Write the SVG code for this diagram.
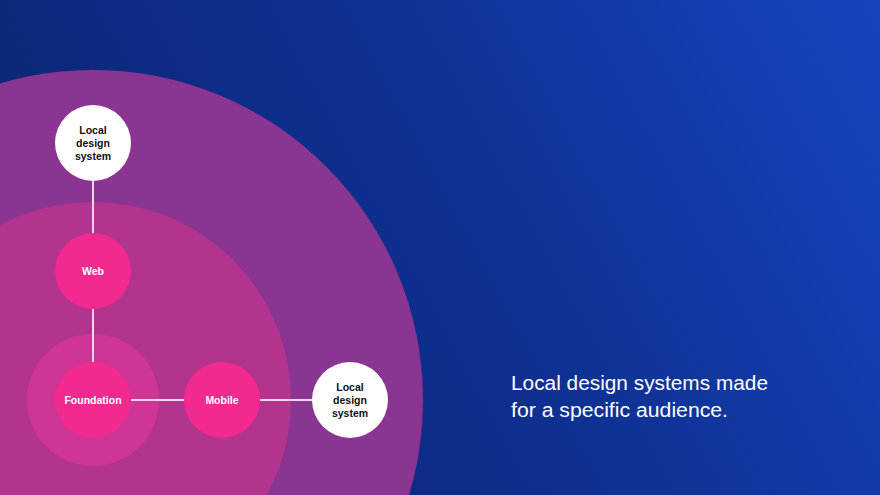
<svg xmlns="http://www.w3.org/2000/svg" width="880" height="495" viewBox="0 0 880 495">
<defs>
<linearGradient id="bg" x1="0" y1="0.3" x2="1" y2="0">
<stop offset="0" stop-color="#0c2676"/>
<stop offset="0.5" stop-color="#0f3296"/>
<stop offset="1" stop-color="#1744be"/>
</linearGradient>
<style>
.node{fill:#f22a8f}
.ext{fill:#ffffff}
.lbl{font-family:"Liberation Sans",Arial,sans-serif;font-size:10.5px;font-weight:bold;text-anchor:middle;fill:#ffffff}
.dark{fill:#111111}
.edge{stroke:#f4d6ec;stroke-width:2;fill:none}
.cap{font-family:"Liberation Sans",Arial,sans-serif;font-size:19.5px;fill:#ffffff}
</style>
</defs>
<rect width="880" height="495" fill="url(#bg)"/>
<circle cx="93" cy="400" r="330" fill="#8a3592"/>
<circle cx="93" cy="400" r="198" fill="#b3348f"/>
<circle cx="93" cy="400" r="66" fill="#cf3596"/>
<g id="connectors">
<line class="edge" x1="93" y1="181" x2="93" y2="233"/>
<line class="edge" x1="93" y1="309" x2="93" y2="362"/>
<line class="edge" x1="131" y1="400" x2="184" y2="400"/>
<line class="edge" x1="260" y1="400" x2="312" y2="400"/>
</g>
<g id="local-top">
<circle class="ext" cx="93" cy="143" r="38"/>
<text class="lbl dark" x="93" y="134">Local</text>
<text class="lbl dark" x="93" y="147">design</text>
<text class="lbl dark" x="93" y="160">system</text>
</g>
<g id="web">
<circle class="node" cx="93" cy="271" r="38"/>
<text class="lbl" x="93" y="275">Web</text>
</g>
<g id="foundation">
<circle class="node" cx="93" cy="400" r="38"/>
<text class="lbl" x="93" y="404">Foundation</text>
</g>
<g id="mobile">
<circle class="node" cx="222" cy="400" r="38"/>
<text class="lbl" x="222" y="404">Mobile</text>
</g>
<g id="local-right">
<circle class="ext" cx="350" cy="400" r="38"/>
<text class="lbl dark" x="350" y="391">Local</text>
<text class="lbl dark" x="350" y="404">design</text>
<text class="lbl dark" x="350" y="417">system</text>
</g>
<text class="cap" x="511" y="390" textLength="257" lengthAdjust="spacingAndGlyphs">Local design systems made</text>
<text class="cap" x="511" y="417" textLength="217" lengthAdjust="spacingAndGlyphs">for a specific audience.</text>
</svg>
